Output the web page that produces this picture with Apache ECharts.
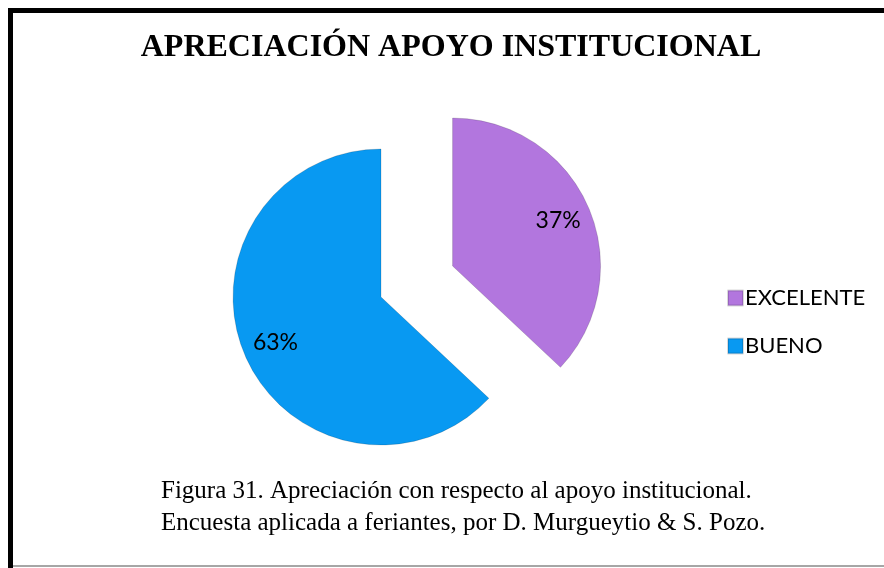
<!DOCTYPE html>
<html>
<head>
<meta charset="utf-8">
<script src="https://cdn.jsdelivr.net/npm/echarts@6/dist/echarts.min.js"></script>
<style>
  html, body { margin: 0; padding: 0; background: #fff; }
  #chart { width: 884px; height: 568px; }
</style>
</head>
<body>
<div id="chart"></div>
<script>
// datos del gráfico
const categorias = ["EXCELENTE", "BUENO"];
const valores = [37, 63];
const colores = ["#B276DE", "#0899F2"];
const titulo = "APRECIACIÓN APOYO INSTITUCIONAL";
const leyenda = [
  "Figura 31. Apreciación con respecto al apoyo institucional.",
  "Encuesta aplicada a feriantes, por D. Murgueytio & S. Pozo.",
];

const chart = echarts.init(document.getElementById("chart"));

const datos = categorias.map((nombre, i) => ({
  name: nombre,
  value: valores[i],
  selected: i === 0,
  itemStyle: { color: colores[i] },
}));

const option = {
  animation: false,
  legend: {
    orient: "vertical",
    left: 722,
    top: 282,
    itemWidth: 15,
    itemHeight: 15,
    itemGap: 26,
    icon: "rect",
    textStyle: { fontFamily: "Lato", fontSize: 22, color: "#000", padding: [0, 0, 0, -3] },
    data: categorias.map((nombre, i) => ({
      name: nombre,
      itemStyle: { color: colores[i] },
    })),
  },
  series: [
    {
      type: "pie",
      center: [381, 297],
      radius: [0, 148],
      startAngle: 90,
      selectedMode: "single",
      selectedOffset: 78,
      label: { show: false },
      labelLine: { show: false },
      emphasis: { disabled: true },
      itemStyle: {
        borderColor: "rgba(0,0,0,0.15)",
        borderWidth: 1,
      },
      data: datos,
    },
    {
      // serie transparente solo para las etiquetas
      type: "pie",
      silent: true,
      center: [381, 297],
      radius: [76, 148],
      startAngle: 90,
      selectedMode: "single",
      selectedOffset: 78,
      legendHoverLink: false,
      emphasis: { disabled: true },
      label: {
        show: true,
        position: "inside",
        formatter: "{d}%",
        fontFamily: "Lato",
        fontSize: 23,
        color: "#000",
      },
      labelLine: { show: false },
      itemStyle: { color: "transparent" },
      data: categorias.map((nombre, i) => ({
        name: nombre,
        value: valores[i],
        selected: i === 0,
      })),
    },
  ],
  graphic: [
    { type: "rect", shape: { x: 8, y: 8, width: 5, height: 560 }, style: { fill: "#000" } },
    { type: "rect", shape: { x: 8, y: 8, width: 876, height: 5 }, style: { fill: "#000" } },
    { type: "rect", shape: { x: 13, y: 565, width: 871, height: 2 }, style: { fill: "#a6a6a6" } },
    {
      type: "text",
      x: 451,
      y: 48,
      style: {
        text: titulo,
        fontFamily: "Liberation Serif",
        fontWeight: "bold",
        fontSize: 32,
        fill: "#000",
        align: "center",
        verticalAlign: "middle",
      },
    },
    {
      type: "text",
      x: 161,
      y: 507,
      style: {
        text: leyenda.join("\n"),
        fontFamily: "Liberation Serif",
        fontSize: 25,
        lineHeight: 32,
        fill: "#000",
        align: "left",
        verticalAlign: "middle",
      },
    },
  ],
};

chart.setOption(option);
window.addEventListener("resize", () => {
  chart.resize();
});
</script>
</body>
</html>
